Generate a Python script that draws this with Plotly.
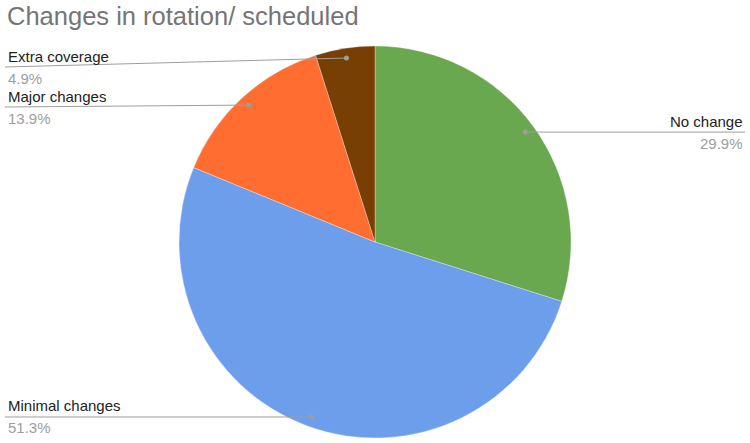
import math
import plotly.graph_objects as go

# ---- data ----
categories = ["No change", "Minimal changes", "Major changes", "Extra coverage"]
values = [29.9, 51.3, 13.9, 4.9]
pct_labels = ["29.9%", "51.3%", "13.9%", "4.9%"]
colors = ["#6aa84f", "#6d9eeb", "#ff6d31", "#783f04"]
title_text = "Changes in rotation/ scheduled"

# ---- layout constants (pixels) ----
W, H = 750, 443
CX, CY, R = 375, 242, 196
DOT_R = 0.95  # fraction of radius where leader dots sit
LEFT_X, RIGHT_X = 5, 745
# label-line y for labels shifted to avoid collisions
label_line_override = {"Extra coverage": 67, "Major changes": 107}
FONT = "Arial, 'Liberation Sans', sans-serif"


def px(x):
    return x / W


def py(y):
    return 1 - y / H


fig = go.Figure()
fig.add_trace(go.Pie(
    labels=categories,
    values=values,
    marker=dict(colors=colors, line=dict(color="rgba(255,255,255,0.6)", width=0.5)),
    sort=False,
    direction="clockwise",
    rotation=0,
    textinfo="none",
    hoverinfo="label+percent",
    showlegend=False,
    domain=dict(x=[px(CX - R), px(CX + R)], y=[py(CY + R), py(CY - R)]),
))

shapes = []
annotations = []
total = sum(values)
cum = 0.0
line_col = "#9e9e9e"
for cat, v, pl in zip(categories, values, pct_labels):
    mid = (cum + v / 2) / total
    cum += v
    th = 2 * math.pi * mid
    dx = CX + DOT_R * R * math.sin(th)
    dy = CY - DOT_R * R * math.cos(th)
    right = dx > CX
    ly = label_line_override.get(cat, dy)
    if right:
        x0, y0, x1, y1 = dx, dy, RIGHT_X, ly
        ax, anchor = RIGHT_X, "right"
    else:
        x0, y0, x1, y1 = LEFT_X, ly, dx, dy
        ax, anchor = LEFT_X + 1, "left"
    shapes.append(dict(type="line", xref="paper", yref="paper",
                       x0=px(x0), y0=py(y0), x1=px(x1), y1=py(y1),
                       line=dict(color=line_col, width=1), layer="above"))
    rr = 2.5
    shapes.append(dict(type="circle", xref="paper", yref="paper",
                       x0=px(dx - rr), x1=px(dx + rr), y0=py(dy + rr), y1=py(dy - rr),
                       fillcolor=line_col, line=dict(width=0), layer="above"))
    annotations.append(dict(x=px(ax), y=py(ly - 11), xref="paper", yref="paper",
                            text=cat, showarrow=False, xanchor=anchor, yanchor="middle",
                            font=dict(family=FONT, size=15, color="#222222")))
    annotations.append(dict(x=px(ax), y=py(ly + 11), xref="paper", yref="paper",
                            text=pl, showarrow=False, xanchor=anchor, yanchor="middle",
                            font=dict(family=FONT, size=15, color="#9e9e9e")))

annotations.append(dict(x=px(5), y=py(16), xref="paper", yref="paper",
                        text=title_text, showarrow=False, xanchor="left", yanchor="middle",
                        font=dict(family=FONT, size=25.5, color="#757575")))

fig.update_layout(
    width=W, height=H,
    margin=dict(l=0, r=0, t=0, b=0),
    paper_bgcolor="white", plot_bgcolor="white",
    shapes=shapes, annotations=annotations,
    showlegend=False,
)

fig.write_html("out.html", config={"displayModeBar": False},
               post_script="document.body.style.margin='0';document.body.style.overflow='hidden';")
